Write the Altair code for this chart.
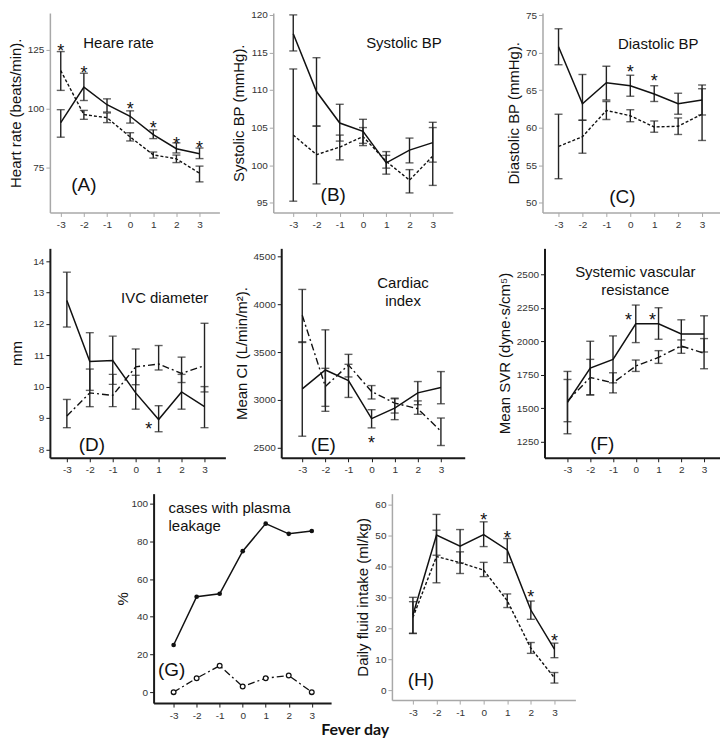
import altair as alt
import pandas as pd

FONT = "Liberation Sans"
days = [-3, -2, -1, 0, 1, 2, 3]

# (A) Heart rate
a_s_mean = [94.1, 109.2, 101.7, 96.8, 89.0, 83.0, 80.9]
a_s_lo = [87.9, 103.5, 98.6, 93.9, 87.3, 81.2, 78.8]
a_s_hi = [99.6, 115.1, 104.2, 99.1, 91.0, 85.5, 83.3]
a_d_mean = [116.2, 97.5, 96.2, 88.0, 80.4, 78.7, 72.6]
a_d_lo = [107.8, 95.5, 94.1, 86.3, 79.0, 77.1, 68.9]
a_d_hi = [124.3, 99.3, 98.2, 89.8, 81.6, 80.3, 75.6]
a_star_x = [-3, -2, 0, 1, 2, 3]
a_star_y = [126.3, 116.7, 101.6, 93.4, 86.8, 85.0]

# (B) Systolic BP
b_s_mean = [117.5, 109.8, 105.6, 104.5, 100.3, 102.0, 103.0]
b_s_lo = [115.2, 105.2, 103.2, 102.9, 98.8, 100.3, 100.4]
b_s_hi = [120.0, 114.3, 108.1, 106.1, 101.8, 103.6, 105.7]
b_d_mean = [104.0, 101.4, 102.4, 103.8, 100.5, 98.0, 101.2]
b_d_lo = [95.2, 97.5, 100.7, 102.6, 99.6, 96.3, 97.3]
b_d_hi = [112.8, 105.2, 104.0, 105.0, 101.3, 99.4, 105.0]

# (C) Diastolic BP
c_s_mean = [70.8, 63.2, 66.0, 65.6, 64.5, 63.2, 63.7]
c_s_lo = [68.4, 61.0, 63.7, 64.2, 63.5, 61.8, 61.7]
c_s_hi = [73.2, 67.1, 68.2, 67.0, 65.6, 64.6, 65.7]
c_d_mean = [57.5, 58.8, 62.3, 61.6, 60.1, 60.2, 61.8]
c_d_lo = [53.2, 56.6, 61.1, 60.8, 59.4, 59.1, 58.3]
c_d_hi = [61.8, 61.0, 63.5, 62.4, 60.9, 61.3, 65.2]
c_star_x = [0, 1]
c_star_y = [67.9, 66.8]

# (D) IVC diameter
d_s_mean = [12.75, 10.8, 10.83, 9.8, 8.95, 9.83, 9.36]
d_s_lo = [11.9, 9.88, 10.07, 9.28, 8.56, 9.28, 8.69]
d_s_hi = [13.65, 11.72, 11.61, 10.36, 9.39, 10.39, 10.0]
d_d_mean = [9.06, 9.8, 9.72, 10.63, 10.72, 10.42, 10.67]
d_d_lo = [8.69, 9.36, 9.36, 10.06, 10.53, 10.13, 9.83]
d_d_hi = [9.59, 10.56, 10.39, 11.2, 11.31, 10.94, 12.02]
d_star_x = [0.57]
d_star_y = [8.76]

# (E) Cardiac index
e_s_mean = [3116, 3313, 3202, 2805, 2915, 3074, 3130]
e_s_lo = [2621, 2881, 3026, 2708, 2794, 2950, 2960]
e_s_hi = [3607, 3732, 3372, 2898, 3012, 3192, 3296]
e_d_mean = [3884, 3140, 3365, 3088, 2967, 2908, 2673]
e_d_lo = [3600, 2933, 3240, 3010, 2863, 2850, 2524]
e_d_hi = [4154, 3330, 3476, 3150, 3019, 2990, 2811]
e_star_x = [0]
e_star_y = [2594]

# (F) Systemic vascular resistance
f_s_mean = [1545, 1800, 1865, 2130, 2130, 2055, 2055]
f_s_lo = [1310, 1600, 1690, 1990, 2015, 1955, 1920]
f_s_hi = [1775, 2000, 2040, 2270, 2250, 2160, 2190]
f_d_mean = [1555, 1730, 1690, 1815, 1880, 1965, 1910]
f_d_lo = [1400, 1600, 1615, 1775, 1835, 1910, 1795]
f_d_hi = [1715, 1865, 1765, 1860, 1930, 2010, 2020]
f_star_x = [-0.32, 0.73]
f_star_y = [2187, 2187]

# (G) % cases with plasma leakage
g_leak = [25.0, 50.6, 52.2, 74.8, 89.4, 84.0, 85.5]
g_noleak = [0.0, 7.4, 14.0, 3.0, 7.4, 8.8, 0.0]

# (H) Daily fluid intake
h_s_mean = [24.3, 50.1, 46.5, 50.3, 45.3, 25.9, 13.3]
h_s_lo = [18.4, 43.6, 41.1, 46.4, 41.2, 22.9, 10.5]
h_s_hi = [30.0, 56.8, 51.9, 54.4, 49.0, 28.8, 15.2]
h_d_mean = [23.5, 43.2, 41.2, 38.8, 28.9, 13.6, 4.0]
h_d_lo = [18.3, 34.7, 37.7, 36.7, 26.7, 11.9, 2.3]
h_d_hi = [28.6, 51.7, 44.7, 41.3, 31.1, 15.4, 5.7]
h_star_x = [0, 1, 2, 3]
h_star_y = [56.2, 50.6, 31.3, 17.3]

DASHED = [3, 2]
DASHDOT = [7, 3, 2, 3]


def make_panel(xdom, ydom, yticks, ytitle, dark, w, h, s=None, d=None, dash=DASHED,
               labels=(), stars=(None, None), gpoints=None, title_pad=4, yfmt="d"):
    ax_col = "#1a1a1a" if dark else "#a8a8a8"
    ax_w = 2 if dark else 1.5
    xs = alt.Scale(domain=xdom, nice=False, zero=False)
    ys = alt.Scale(domain=ydom, nice=False, zero=False)
    xa = alt.Axis(values=days, labelExpr="'' + datum.value", title=None, grid=False,
                  domainColor=ax_col, domainWidth=ax_w, tickColor=ax_col, tickWidth=1,
                  tickSize=4, labelColor="#333", labelFontSize=10, labelFont=FONT,
                  labelPadding=3)
    ya = alt.Axis(values=yticks, format=yfmt, title=ytitle, grid=False,
                  domainColor=ax_col, domainWidth=ax_w, tickColor=ax_col, tickWidth=1,
                  tickSize=4, labelColor="#333", labelFontSize=10, labelFont=FONT,
                  labelPadding=2, titleFont=FONT, titleFontSize=15,
                  titleFontWeight="normal", titleColor="#111", titlePadding=title_pad)
    X = alt.X("day:Q", scale=xs, axis=xa)

    def Y(f):
        return alt.Y(f, scale=ys, axis=ya)

    layers = []
    for ser, sd in ((d, dash), (s, None)):
        if ser is None:
            continue
        mean, lo, hi = ser
        df = pd.DataFrame({"day": days, "val": mean, "lo": lo, "hi": hi})
        base = alt.Chart(df)
        layers.append(base.mark_rule(color="#222", strokeWidth=1.4).encode(
            x=X, y=Y("lo:Q"), y2="hi:Q"))
        layers.append(base.mark_tick(orient="horizontal", size=8, thickness=1.4,
                                     color="#222").encode(x=X, y=Y("lo:Q")))
        layers.append(base.mark_tick(orient="horizontal", size=8, thickness=1.4,
                                     color="#222").encode(x=X, y=Y("hi:Q")))
        if sd is None:
            layers.append(base.mark_line(color="#111", strokeWidth=1.5).encode(
                x=X, y=Y("val:Q")))
        else:
            layers.append(base.mark_line(color="#111", strokeWidth=1.4,
                                         strokeDash=sd).encode(x=X, y=Y("val:Q")))
    if gpoints is not None:
        leak, noleak = gpoints
        dl = pd.DataFrame({"day": days, "val": leak})
        dn = pd.DataFrame({"day": days, "val": noleak})
        layers.append(alt.Chart(dn).mark_line(color="#111", strokeWidth=1.3,
                                              strokeDash=DASHDOT).encode(x=X, y=Y("val:Q")))
        layers.append(alt.Chart(dl).mark_line(color="#111", strokeWidth=1.5).encode(
            x=X, y=Y("val:Q")))
        layers.append(alt.Chart(dl).mark_point(filled=True, color="#111", size=22,
                                               opacity=1).encode(x=X, y=Y("val:Q")))
        layers.append(alt.Chart(dn).mark_point(filled=True, fill="white", stroke="#111",
                                               strokeWidth=1.3, size=22, opacity=1).encode(
            x=X, y=Y("val:Q")))
    sx, sy = stars
    if sx:
        sdf = pd.DataFrame({"day": sx, "val": sy, "t": ["*"] * len(sx)})
        layers.append(alt.Chart(sdf).mark_text(fontSize=18, font=FONT, color="#111",
                                               baseline="middle", dy=5).encode(
            x=X, y=Y("val:Q"), text="t:N"))
    for lx, ly, txt, fs, al in labels:
        ldf = pd.DataFrame({"day": [lx], "val": [ly], "t": [txt]})
        layers.append(alt.Chart(ldf).mark_text(fontSize=fs, font=FONT, color="#111",
                                               align=al, baseline="middle").encode(
            x=X, y=Y("val:Q"), text="t:N"))
    return alt.layer(*layers).properties(width=w, height=h)


def spacer(w, h=10):
    return alt.Chart(pd.DataFrame({"day": [0]})).mark_point(opacity=0, size=0).encode(
        x=alt.X("day:Q", axis=None), y=alt.Y("day:Q", axis=None)).properties(width=w, height=h)


A = make_panel([-3.47, 3.86], [55.9, 140.7], [75, 100, 125], "Heart rate (beats/min).", False,
               170, 200, s=(a_s_mean, a_s_lo, a_s_hi), d=(a_d_mean, a_d_lo, a_d_hi),
               labels=[(-0.5, 128, "Heare rate", 15, "center"), (-2.0, 67.4, "(A)", 19, "center")],
               stars=(a_star_x, a_star_y))
B = make_panel([-3.86, 3.86], [93.7, 120.25], [95, 100, 105, 110, 115, 120], "Systolic BP (mmHg).",
               False, 180, 200, s=(b_s_mean, b_s_lo, b_s_hi), d=(b_d_mean, b_d_lo, b_d_hi),
               labels=[(1.76, 116.2, "Systolic BP", 15, "center"), (-1.28, 96, "(B)", 19, "center")])
C = make_panel([-3.67, 3.75], [48.7, 75.3], [50, 55, 60, 65, 70, 75], "Diastolic BP (mmHg).",
               False, 178, 200, s=(c_s_mean, c_s_lo, c_s_hi), d=(c_d_mean, c_d_lo, c_d_hi),
               labels=[(1.17, 71.2, "Diastolic BP", 15, "center"), (-0.33, 50.7, "(C)", 19, "center")],
               stars=(c_star_x, c_star_y))
D = make_panel([-3.74, 3.91], [7.73, 14.41], [8, 9, 10, 11, 12, 13, 14], "mm", True,
               176, 210, s=(d_s_mean, d_s_lo, d_s_hi), d=(d_d_mean, d_d_lo, d_d_hi), dash=DASHDOT,
               labels=[(1.26, 12.82, "IVC diameter", 15, "center"), (-1.91, 8.13, "(D)", 19, "center")],
               stars=(d_star_x, d_star_y), title_pad=8)
E = make_panel([-3.91, 4.03], [2396, 4583], [2500, 3000, 3500, 4000, 4500], "Mean CI (L/min/m\u00b2).",
               True, 184, 210, s=(e_s_mean, e_s_lo, e_s_hi), d=(e_d_mean, e_d_lo, e_d_hi),
               dash=DASHDOT,
               labels=[(1.36, 4219, "Cardiac", 15, "center"), (1.36, 4031, "index", 15, "center"),
                       (-2.09, 2531, "(E)", 19, "center")],
               stars=(e_star_x, e_star_y))
F = make_panel([-4.01, 3.7], [1131, 2693], [1250, 1500, 1750, 2000, 2250, 2500],
               "Mean SVR (dyne\u00b7s/cm\u2075)", True, 176, 210,
               s=(f_s_mean, f_s_lo, f_s_hi), d=(f_d_mean, f_d_lo, f_d_hi), dash=DASHDOT,
               labels=[(-0.02, 2515, "Systemic vascular", 15, "center"),
                       (-0.02, 2381, "resistance", 15, "center"),
                       (-1.47, 1235, "(F)", 19, "center")],
               stars=(f_star_x, f_star_y))
G = make_panel([-3.87, 3.84], [-5.8, 105.3], [0, 20, 40, 60, 80, 100], "%", True, 178, 210,
               gpoints=(g_leak, g_noleak),
               labels=[(-3.22, 97.9, "cases with plasma", 15, "left"),
                       (-3.22, 88.4, "leakage", 15, "left"),
                       (-3.09, 11.6, "(G)", 19, "center")], title_pad=0)
H = make_panel([-3.89, 3.89], [-3.2, 63.5], [0, 10, 20, 30, 40, 50, 60],
               "Daily fluid intake (ml/kg)", False, 184, 207,
               s=(h_s_mean, h_s_lo, h_s_hi), d=(h_d_mean, h_d_lo, h_d_hi),
               labels=[(-2.66, 3.2, "(H)", 19, "center")], stars=(h_star_x, h_star_y))

row1 = alt.hconcat(A, spacer(54), B, spacer(90), C, spacing=0, bounds="flush")
row2 = alt.hconcat(D, spacer(56), E, spacer(80), F, spacing=0, bounds="flush")
row3 = alt.hconcat(spacer(104), G, spacer(61), H, spacing=0, bounds="flush")

chart = alt.vconcat(row1, row2, row3, spacing=19).properties(
    padding={"left": 0, "top": 0, "right": 0, "bottom": 0},
    title=alt.TitleParams("Fever day", orient="bottom", anchor="middle", font="Lato",
                          fontSize=16, fontWeight="bold", color="#111", dx=-9, offset=2),
).configure_view(stroke=None)

chart.save("out.html", embed_options={"renderer": "svg", "actions": False})
